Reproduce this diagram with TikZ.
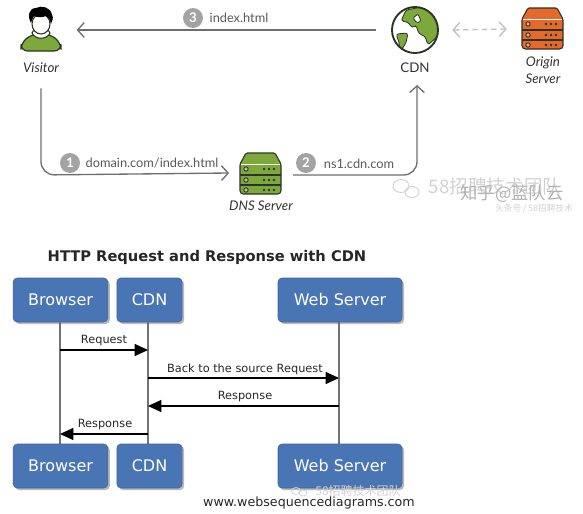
\documentclass[tikz,border=0pt]{standalone}
\usepackage{fontspec}
\setmainfont{Lato}
\newfontfamily\seqfont{DejaVu Sans}
\newfontfamily\cjk{Noto Sans CJK SC}
\usetikzlibrary{arrows.meta,shadows}
\definecolor{cdngreen}{HTML}{7DA83C}
\definecolor{cdnorange}{HTML}{E4692B}
\definecolor{iconline}{HTML}{2B3327}
\definecolor{flowgrey}{HTML}{6E6E6E}
\definecolor{stepgrey}{HTML}{A3A3A3}
\definecolor{seqblue}{HTML}{4A75B5}
\definecolor{markgrey}{HTML}{D2D2D2}
\tikzset{
  iconbox/.style={inner sep=0pt, minimum width=#1, minimum height=#1},
  iconlabel/.style={font=\itshape\fontsize{10}{12}\selectfont, text=black!80, align=center},
  steplabel/.style={font=\fontsize{9.6}{12}\selectfont, text=black!65},
  stepdot/.style={circle, fill=stepgrey, inner sep=0pt, minimum size=15pt, text=white, font=\bfseries\fontsize{10}{12}\selectfont},
  flowline/.style={draw=flowgrey, line width=1pt, rounded corners=10pt, -{Straight Barb[length=5pt,width=11pt]}},
  syncline/.style={draw=black!25, line width=1pt, dash pattern=on 4pt off 3pt, {Straight Barb[length=5pt,width=11pt]}-{Straight Barb[length=5pt,width=11pt]}},
  seqbox/.style={draw=seqblue!85!black, fill=seqblue, rounded corners=3pt, inner sep=0pt, text=white, font=\seqfont\fontsize{12}{14}\selectfont, minimum height=33pt, drop shadow={shadow xshift=1.5pt, shadow yshift=-1.5pt, fill=black!55}},
  lifeline/.style={draw=black!55, line width=0.9pt},
  seqarrow/.style={draw=black, line width=0.9pt, -{Triangle[length=10pt,width=9pt]}},
  seqlabel/.style={font=\seqfont\fontsize{8.5}{10}\selectfont, text=black!85, inner sep=0pt},
  watermark/.style={font=\cjk\fontsize{#1}{#1}\selectfont, text=markgrey, inner sep=0pt}
}
% Server icon: left edge, top edge, colour
\newcommand{\drawServer}[3]{
  \begin{scope}[shift={(#1,#2)}]
    \draw[fill=#3, draw=iconline, line width=0.8pt, rounded corners=1pt] (0,11) -- (6,0) -- (35,0) -- (41,11) -- (41,39) -- (39,41) -- (2,41) -- (0,39) -- cycle;
    \draw[white, line width=0.7pt] (1,11) -- (40,11);
    \draw[iconline, line width=0.9pt] (0,22) -- (41,22);
    \draw[iconline, line width=0.9pt] (0,32) -- (41,32);
    \foreach \rowy in {16,27,37} {
      \draw[iconline, fill=white!40!#3, line width=0.7pt] (6,\rowy) circle (2.2);
      \foreach \dotx in {24,29,34} {
        \fill[iconline] (\dotx,\rowy) circle (1.3);
      }
    }
  \end{scope}
}
\begin{document}
\begin{tikzpicture}[x=0.75pt, y=-0.75pt]
\useasboundingbox (0,0) rectangle (583,514);
% Visitor
\begin{scope}[shift={(41,30)}]
  \draw[fill=cdngreen, draw=iconline, line width=0.9pt, rounded corners=5pt] (-20,21) -- (-20,13) -- (-9,4) -- (9,4) -- (20,13) -- (20,21) -- cycle;
  \draw[fill=white, draw=iconline, line width=0.8pt] (-9,3) .. controls (-6,10) and (6,10) .. (9,3) -- (6,-2) -- (-6,-2) -- cycle;
  \draw[fill=white, draw=iconline, line width=0.8pt] (0,-6) ellipse (9 and 10);
  \fill[black] (-10,-7) .. controls (-14,-14) and (-12,-22) .. (-5,-22) .. controls (0,-25) and (10,-23) .. (11,-15) .. controls (13,-12) and (11,-9) .. (10,-6) .. controls (9,-10) and (8,-13) .. (5,-14) .. controls (1,-12) and (-5,-13) .. (-7,-14) .. controls (-9,-12) and (-9,-9) .. (-10,-7) -- cycle;
\end{scope}
\node[iconbox=32pt] (visitoricon) at (41,30) {};
\node[iconlabel] (visitorlabel) at (41,68) {Visitor};
% CDN globe
\begin{scope}
  \clip (415,30) circle (23);
  \fill[white] (415,30) circle (23);
  \begin{scope}[shift={(415,30)}]
    \draw[fill=cdngreen, draw=iconline, line width=0.6pt, rounded corners=2pt] (-14,-9) -- (-9,-20) -- (12,-24) -- (26,-8) -- (24,5) -- (13,15) -- (10,6) -- (4,4) -- (1,-5) -- (-3,-2) -- (-7,-8) -- cycle;
    \draw[fill=white, draw=iconline, line width=0.6pt, rounded corners=1pt] (-2,-12) -- (3,-16) -- (6,-9) -- (2,-7) -- cycle;
    \draw[fill=cdngreen, draw=iconline, line width=0.6pt, rounded corners=2pt] (-19,4) -- (-7,3) -- (-9,13) -- (-15,22) -- (-16,12) -- cycle;
  \end{scope}
\end{scope}
\node[circle, inner sep=0pt, draw=iconline, line width=1.4pt, minimum size=34.5pt] (cdnicon) at (415,30) {};
\node[iconlabel, font=\fontsize{10}{12}\selectfont] (cdnlabel) at (415,68) {CDN};
% Servers
\drawServer{240}{153}{cdngreen}
\drawServer{522}{8}{cdnorange}
\node[iconbox=30pt] (dnsicon) at (260,173) {};
\node[iconbox=30pt] (originicon) at (543,29) {};
\node[iconlabel] (dnslabel) at (261,206) {DNS Server};
\node[iconlabel, font=\itshape\fontsize{10}{12.5}\selectfont] (originlabel) at (543,70) {Origin\\Server};
% Steps
\coordinate (turnleft) at (41,175);
\coordinate (dnsout) at (293,175);
\coordinate (turnright) at (417,175);
\coordinate (cdnin) at (417,85);
\draw[flowline, shorten <=8pt] (visitorlabel.south) -- (turnleft) -- ([xshift=-8pt]dnsicon.west);
\draw[flowline] (dnsout) -- (turnright) -- (cdnin);
\draw[flowline, sharp corners, shorten <=11pt, shorten >=10.5pt] (cdnicon.west) -- (visitoricon.east);
\draw[syncline] ([xshift=10pt]cdnicon.east) -- ([xshift=-12pt]originicon.west);
\node[stepdot] (stepa) at (70,163) {1};
\node[steplabel] (stepatext) at (152,163) {domain.com/index.html};
\node[stepdot] (stepb) at (306,163) {2};
\node[steplabel] (stepbtext) at (359,164) {ns1.cdn.com};
\node[stepdot] (stepc) at (193,18) {3};
\node[steplabel] (stepctext) at (239,18) {index.html};
% Watermark
\draw[markgrey, line width=0.7pt] (401,186) ellipse (8 and 6.5);
\draw[markgrey, line width=0.7pt] (412,192) ellipse (7 and 5.5);
\node[watermark=14] (markone) at (495,186) {58招聘技术团队};
\node[watermark=13, text=black!30] (marktwo) at (512,194) {知乎@蓝队云};
\node[watermark=6.5] (markthree) at (534,209) {头条号 / 58招聘技术};
% Sequence title
\node[font=\seqfont\bfseries\fontsize{11}{14}\selectfont, text=black!85] (seqtitle) at (207,257) {HTTP Request and Response with CDN};
% Lifelines first, the boxes sit on top
\coordinate (browsertop) at (60,322);
\coordinate (browserend) at (60,444);
\coordinate (cdntop) at (148,322);
\coordinate (cdnend) at (148,444);
\coordinate (webtop) at (339,322);
\coordinate (webend) at (339,444);
\draw[lifeline] (browsertop) -- (browserend);
\draw[lifeline] (cdntop) -- (cdnend);
\draw[lifeline] (webtop) -- (webend);
\node[seqbox, minimum width=71pt] (browserhead) at (60.5,300) {Browser};
\node[seqbox, minimum width=49pt] (cdnhead) at (149.5,300) {CDN};
\node[seqbox, minimum width=93pt] (webhead) at (340,300) {Web Server};
\node[seqbox, minimum width=71pt] (browserfoot) at (60.5,466) {Browser};
\node[seqbox, minimum width=49pt] (cdnfoot) at (149.5,466) {CDN};
\node[seqbox, minimum width=93pt] (webfoot) at (340,466) {Web Server};
% Messages
\coordinate (msga) at (60,350);
\coordinate (msgb) at (148,350);
\coordinate (msgc) at (148,378);
\coordinate (msgd) at (339,378);
\coordinate (msge) at (339,406);
\coordinate (msgf) at (148,406);
\coordinate (msgg) at (148,434);
\coordinate (msgh) at (60,434);
\draw[seqarrow] (msga) -- (msgb);
\draw[seqarrow] (msgc) -- (msgd);
\draw[seqarrow] (msge) -- (msgf);
\draw[seqarrow] (msgg) -- (msgh);
\node[seqlabel] (msgatext) at (104,341) {Request};
\node[seqlabel] (msgbtext) at (245,369) {Back to the source Request};
\node[seqlabel] (msgctext) at (245,397) {Response};
\node[seqlabel] (msgdtext) at (105,425) {Response};
% Footer
\draw[markgrey, line width=0.6pt] (296,491) ellipse (4.5 and 3.5);
\draw[markgrey, line width=0.6pt] (303,493) ellipse (4 and 3);
\node[watermark=9] (markfour) at (358,491) {58招聘技术团队};
\node[font=\seqfont\fontsize{9.5}{11}\selectfont, text=black!85, inner sep=0pt] (footer) at (309,503) {www.websequencediagrams.com};
\end{tikzpicture}
\end{document}
